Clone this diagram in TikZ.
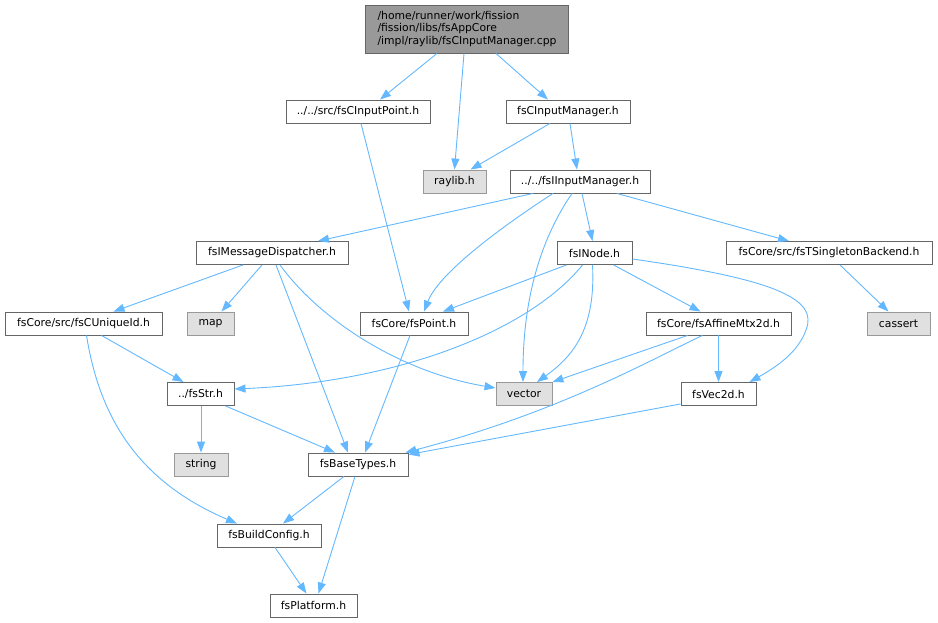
\documentclass[tikz,border=0pt]{standalone}
\usepackage{fontspec}
\setmainfont{DejaVu Sans}
\usepackage{tikz}
\usetikzlibrary{arrows.meta}
\definecolor{edgeblue}{HTML}{63B8FF}
\definecolor{rootfill}{HTML}{999999}
\definecolor{rootline}{HTML}{666666}
\definecolor{sysfill}{HTML}{E0E0E0}
\definecolor{sysline}{HTML}{999999}
\tikzset{every node/.style={align=center}}
\tikzset{
  hdr/.style={draw=rootline, fill=white, line width=0.9pt, inner sep=0pt,
    minimum height=23pt, font=\fontsize{10.8}{12.8}\selectfont},
  sys/.style={hdr, draw=sysline, fill=sysfill},
  root/.style={hdr, fill=rootfill, align=left, minimum height=48pt},
  dep/.style={-{Triangle[length=11pt,width=8pt]}, draw=edgeblue, line width=0.9pt}
}

\begin{document}
\begin{tikzpicture}[x=1pt,y=-1pt]
        \useasboundingbox (0,0) rectangle (938,623);

        \node[root, minimum width=203pt] (main) at (467,29) {/home/runner/work/fission\\/fission/libs/fsAppCore\\/impl/raylib/fsCInputManager.cpp};

        \node[hdr, minimum width=144pt] (inpoint) at (358,111.5) {../../src/fsCInputPoint.h};
        \node[hdr, minimum width=124pt] (inmgr) at (568,111.5) {fsCInputManager.h};
        \node[sys, minimum width=63pt] (raylib) at (454.5,181.5) {raylib.h};
        \node[hdr, minimum width=140pt] (iinmgr) at (580,181.5) {../../fsIInputManager.h};

        \node[hdr, minimum width=152pt] (msgdisp) at (272,253) {fsIMessageDispatcher.h};
        \node[hdr, minimum width=75pt] (inode) at (594.5,253) {fsINode.h};
        \node[hdr, minimum width=206pt] (singleton) at (829,253) {fsCore/src/fsTSingletonBackend.h};

        \node[hdr, minimum width=157pt] (uniqueid) at (83.5,323.5) {fsCore/src/fsCUniqueId.h};
        \node[sys, minimum width=47pt] (map) at (210.5,323.5) {map};
        \node[hdr, minimum width=108pt] (point) at (414,323.5) {fsCore/fsPoint.h};
        \node[hdr, minimum width=145pt] (affine) at (718.5,323.5) {fsCore/fsAffineMtx2d.h};
        \node[sys, minimum width=63pt] (cassert) at (898.5,323.5) {cassert};

        \node[hdr, minimum width=67pt] (str) at (200.5,394) {../fsStr.h};
        \node[sys, minimum width=56pt] (vector) at (524,394) {vector};
        \node[hdr, minimum width=75pt] (vec2d) at (718.5,394) {fsVec2d.h};

        \node[sys, minimum width=54pt] (string) at (201,464.5) {string};
        \node[hdr, minimum width=100pt] (basetypes) at (358,464.5) {fsBaseTypes.h};
        \node[hdr, minimum width=104pt] (buildcfg) at (269,535.5) {fsBuildConfig.h};
        \node[hdr, minimum width=87pt] (platform) at (313.5,605.5) {fsPlatform.h};

        % main file includes
        \draw[dep] ([xshift=-30pt]main.south) -- ([xshift=22pt]inpoint.north);
        \draw[dep] ([xshift=-3pt]main.south) -- (raylib.north);
        \draw[dep] ([xshift=29pt]main.south) -- ([xshift=-20pt]inmgr.north);

        % fsCInputPoint.h and fsCInputManager.h
        \draw[dep] ([xshift=3pt]inpoint.south) -- ([xshift=-5pt]point.north);
        \draw[dep] ([xshift=-18pt]inmgr.south) -- ([xshift=16pt]raylib.north);
        \draw[dep] ([xshift=2pt]inmgr.south) -- ([xshift=-3pt]iinmgr.north);

        % fsIInputManager.h
        \draw[dep] ([xshift=-47pt]iinmgr.south) -- ([xshift=46pt]msgdisp.north);
        \draw[dep] ([xshift=-27pt]iinmgr.south) .. controls (515,218) and (440,270) .. ([xshift=10pt]point.north);
        \draw[dep] ([xshift=-8pt]iinmgr.south) .. controls (540,240) and (523,300) .. ([xshift=-1pt]vector.north);
        \draw[dep] ([xshift=2pt]iinmgr.south) -- ([xshift=-2pt]inode.north);
        \draw[dep] ([xshift=37pt]iinmgr.south) -- ([xshift=-40pt]singleton.north);

        % fsIMessageDispatcher.h
        \draw[dep] ([xshift=-29pt]msgdisp.south) -- ([xshift=30pt]uniqueid.north);
        \draw[dep] ([xshift=-10pt]msgdisp.south) -- ([xshift=11pt]map.north);
        \draw[dep] ([xshift=4pt]msgdisp.south) -- ([xshift=-10pt]basetypes.north);
        \draw[dep] ([xshift=8pt]msgdisp.south) .. controls (320,320) and (400,372) .. ([yshift=6pt]vector.west);

        % fsINode.h
        \draw[dep] ([xshift=-28pt]inode.south) -- ([xshift=29pt]point.north);
        \draw[dep] ([xshift=-12pt]inode.south) .. controls (530,330) and (400,382) .. ([yshift=5pt]str.east);
        \draw[dep] ([xshift=-2pt]inode.south) .. controls (596,330) and (572,357) .. ([xshift=13pt]vector.north);
        \draw[dep] ([xshift=19pt]inode.south) -- ([xshift=-18pt]affine.north);
        \draw[dep] ([yshift=-6pt]inode.east) .. controls (780,280) and (818,300) .. (806,330)
                   .. controls (798,352) and (778,366) .. ([xshift=31pt]vec2d.north);

        % fsTSingletonBackend.h
        \draw[dep] ([xshift=11pt]singleton.south) -- ([xshift=-10pt]cassert.north);

        % fsCUniqueId.h
        \draw[dep] ([xshift=18pt]uniqueid.south) -- ([xshift=-17pt]str.north);
        \draw[dep] ([xshift=3pt]uniqueid.south) .. controls (100,420) and (140,482) .. ([xshift=-32pt]buildcfg.north);

        % fsPoint.h and fsAffineMtx2d.h
        \draw[dep] ([xshift=-4pt]point.south) -- ([xshift=7pt]basetypes.north);
        \draw[dep] ([xshift=-31pt]affine.south) -- (vector.north east);
        \draw[dep] ([xshift=-16pt]affine.south) .. controls (650,360) and (560,412) .. ([xshift=-3pt]basetypes.north east);
        \draw[dep] (affine.south) -- (vec2d.north);

        % fsVec2d.h and fsStr.h
        \draw[dep] ([yshift=2pt]vec2d.south west) -- ([yshift=-2pt]basetypes.north east);
        \draw[dep] ([xshift=0.5pt]str.south) -- (string.north);
        \draw[dep] ([xshift=25pt]str.south) -- ([xshift=-23pt]basetypes.north);

        % fsBaseTypes.h and fsBuildConfig.h
        \draw[dep] ([xshift=-14pt]basetypes.south) -- ([xshift=14pt]buildcfg.north);
        \draw[dep] ([xshift=-3pt]basetypes.south) -- ([xshift=5pt]platform.north);
        \draw[dep] ([xshift=6pt]buildcfg.south) -- ([xshift=-7pt]platform.north);

    \end{tikzpicture}
\end{document}
